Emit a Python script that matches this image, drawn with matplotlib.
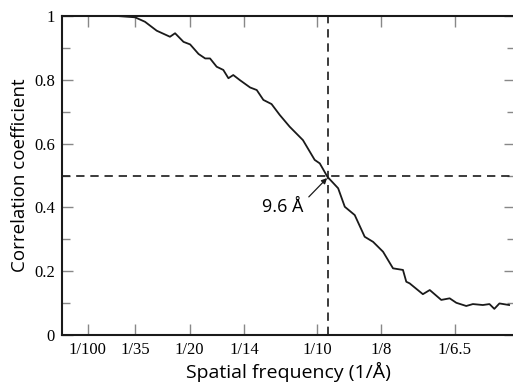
"""
Fourier shell correlation curve with 0.5 threshold marked.
"""

import matplotlib

matplotlib.use("Agg")
import matplotlib.pyplot as plt

# curve: spatial frequency (1/A) and correlation
freq = [
    0.0218, 0.0286, 0.0325, 0.0371, 0.0423, 0.0443, 0.0476, 0.0502,
    0.0535, 0.0561, 0.0580, 0.0606, 0.0632, 0.0652, 0.0671, 0.0697, 0.0737,
    0.0763, 0.0789, 0.0821, 0.0853, 0.0892, 0.0944, 0.0990, 0.1010, 0.1040,
    0.1082, 0.1108, 0.1147, 0.1186, 0.1219, 0.1258, 0.1297, 0.1336, 0.1349,
    0.1362, 0.1414, 0.1441, 0.1486, 0.1519, 0.1545, 0.1584, 0.1610, 0.1649,
    0.1675, 0.1694, 0.1714, 0.1752,
]
corr = [
    1.0, 0.996, 0.982, 0.954, 0.935, 0.946, 0.919, 0.911,
    0.881, 0.867, 0.867, 0.841, 0.831, 0.805, 0.815, 0.799, 0.776,
    0.768, 0.737, 0.724, 0.690, 0.653, 0.611, 0.549, 0.538, 0.496,
    0.460, 0.402, 0.376, 0.308, 0.292, 0.261, 0.209, 0.204, 0.167,
    0.162, 0.128, 0.141, 0.110, 0.115, 0.101, 0.091, 0.097, 0.094,
    0.097, 0.082, 0.099, 0.094,
]

x_ticks = [1 / 100, 1 / 35, 1 / 20, 1 / 14, 1 / 10, 1 / 8, 1 / 6.5]
x_labels = ["1/100", "1/35", "1/20", "1/14", "1/10", "1/8", "1/6.5"]
y_ticks = [0, 0.2, 0.4, 0.6, 0.8, 1]
y_labels = ["0", "0.2", "0.4", "0.6", "0.8", "1"]

cutoff_res = 9.6
threshold = 0.5


def main() -> None:
    fig = plt.figure(figsize=(5.13, 3.86), dpi=100)
    ax = fig.add_axes([0.1209, 0.1321, 0.883, 0.8264])

    ax.plot(freq, corr, color="#1a1a1a", linewidth=1.3)
    ax.axhline(threshold, color="#1a1a1a", linewidth=1.2, dashes=(5, 3.5))
    ax.axvline(1 / cutoff_res, color="#1a1a1a", linewidth=1.2, dashes=(5, 3.5))

    ax.text(0.0865, 0.401, f"{cutoff_res} Å", ha="center", va="center",
            fontsize=13, family="Open Sans")
    ax.annotate(
        "",
        xy=(1 / cutoff_res - 0.0003, threshold - 0.008),
        xytext=(0.0967, 0.433),
        arrowprops=dict(arrowstyle="-|>", color="#1a1a1a", linewidth=0.9,
                        mutation_scale=8, shrinkA=0, shrinkB=0),
    )

    ax.set_xlim(0, 0.1775)
    ax.set_ylim(0, 1)
    ax.set_xticks(x_ticks)
    ax.set_xticklabels(x_labels, family="Liberation Serif", fontsize=12)
    ax.set_yticks(y_ticks)
    ax.set_yticklabels(y_labels, family="Liberation Serif", fontsize=12)
    ax.set_yticks([0.1, 0.3, 0.5, 0.7, 0.9], minor=True)
    ax.tick_params(which="both", direction="in", top=True, right=True,
                   color="#888888", width=1.0)
    ax.tick_params(which="major", length=8, pad=5)
    ax.tick_params(which="minor", length=6)

    for spine in ax.spines.values():
        spine.set_linewidth(1.5)
        spine.set_color("#1a1a1a")

    ax.set_xlabel("Spatial frequency (1/Å)", family="Open Sans", fontsize=14,
                  labelpad=3)
    ax.set_ylabel("Correlation coefficient", family="Open Sans", fontsize=13.5,
                  labelpad=4)

    fig.savefig("out.png", dpi=100)


if __name__ == "__main__":
    main()
